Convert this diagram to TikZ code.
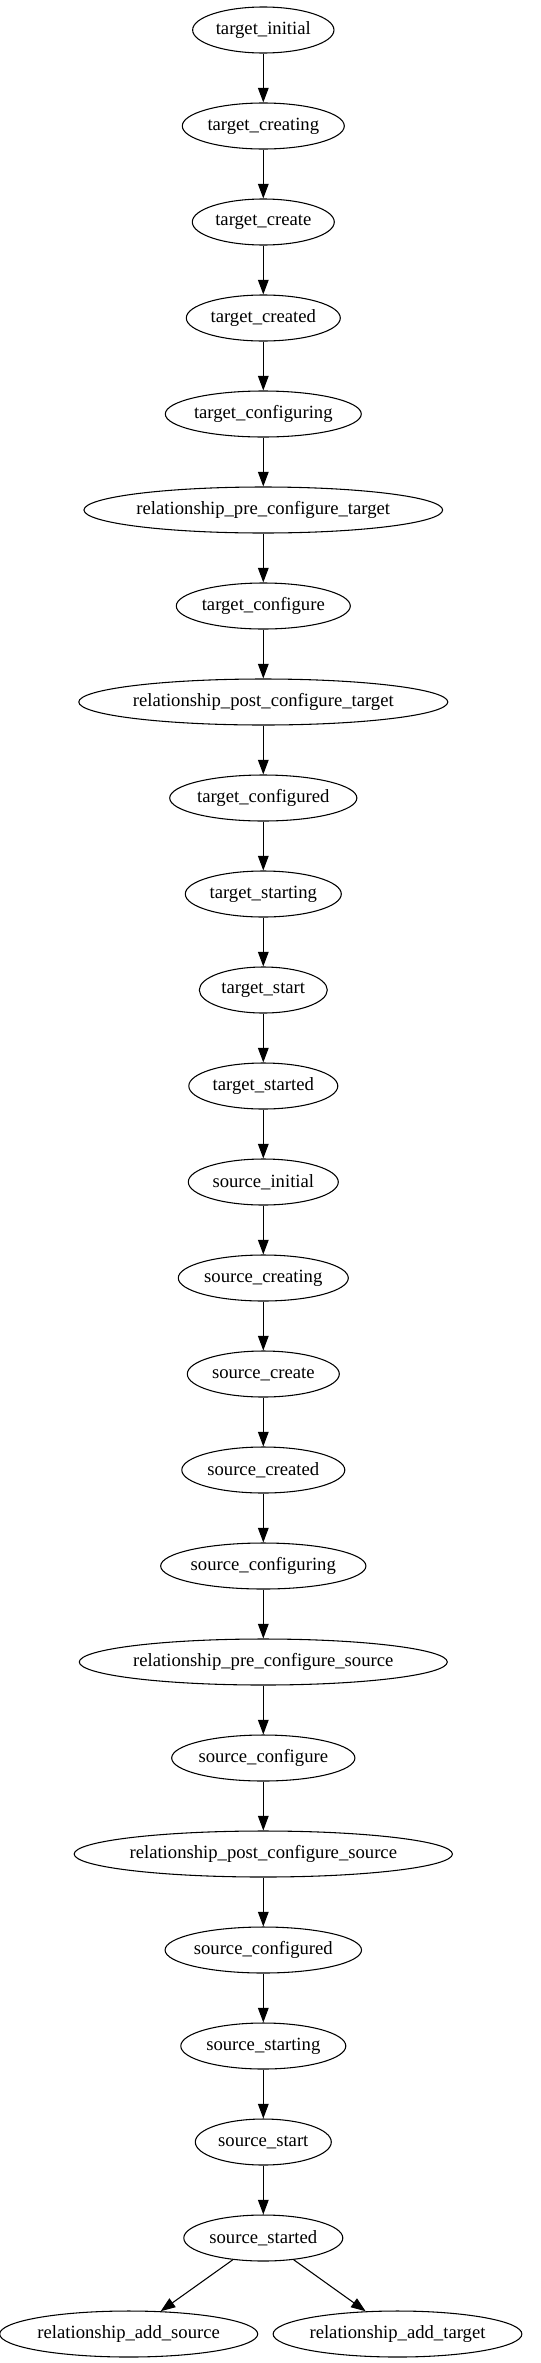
\documentclass[tikz,border=0pt]{standalone}
\usepackage{fontspec}
\setmainfont{Liberation Serif}
\usetikzlibrary{arrows.meta,shapes.geometric}

\begin{document}
\begin{tikzpicture}[x=0.75pt,y=0.75pt,yscale=-1,xscale=1,
  state/.style={draw, ellipse, line width=0.8pt, inner sep=0pt, minimum height=34.5pt, font=\fontsize{14pt}{16pt}\selectfont},
  arr/.style={line width=0.8pt, -{Triangle[length=11pt,width=8pt]}}]
\useasboundingbox (0,0) rectangle (541,2363);

% target side
\node [state, minimum width=106pt] (tinit) at (263.3,30) {target\_initial};
\node [state, minimum width=121.5pt] (tcreating) at (263.3,126) {target\_creating};
\node [state, minimum width=106.5pt] (tcreate) at (263.3,222) {target\_create};
\node [state, minimum width=115.5pt] (tcreated) at (263.3,318) {target\_created};
\node [state, minimum width=144pt] (tconfiguring) at (263.3,414) {target\_configuring};
\node [state, minimum width=250.5pt] (rpretarget) at (263.3,510) {relationship\_pre\_configure\_target};
\node [state, minimum width=130.5pt] (tconfigure) at (263.3,606) {target\_configure};
\node [state, minimum width=257.25pt] (rposttarget) at (263.3,702) {relationship\_post\_configure\_target};
\node [state, minimum width=138.75pt] (tconfigured) at (263.3,798) {target\_configured};
\node [state, minimum width=117pt] (tstarting) at (263.3,894) {target\_starting};
\node [state, minimum width=96pt] (tstart) at (263.3,990) {target\_start};
\node [state, minimum width=111.75pt] (tstarted) at (263.3,1086) {target\_started};

% source side
\node [state, minimum width=112.5pt] (sinit) at (263.3,1182) {source\_initial};
\node [state, minimum width=127.5pt] (screating) at (263.3,1278) {source\_creating};
\node [state, minimum width=114pt] (screate) at (263.3,1374) {source\_create};
\node [state, minimum width=122.25pt] (screated) at (263.3,1470) {source\_created};
\node [state, minimum width=150.75pt] (sconfiguring) at (263.3,1566) {source\_configuring};
\node [state, minimum width=255.75pt] (rpresource) at (263.3,1662) {relationship\_pre\_configure\_source};
\node [state, minimum width=136.5pt] (sconfigure) at (263.3,1758) {source\_configure};
\node [state, minimum width=263.25pt] (rpostsource) at (263.3,1854) {relationship\_post\_configure\_source};
\node [state, minimum width=144.75pt] (sconfigured) at (263.3,1950) {source\_configured};
\node [state, minimum width=123.75pt] (sstarting) at (263.3,2046) {source\_starting};
\node [state, minimum width=102pt] (sstart) at (263.3,2142) {source\_start};
\node [state, minimum width=119.25pt] (sstarted) at (263.3,2238) {source\_started};

% relationship ends
\node [state, minimum width=187.5pt] (raddsource) at (128.7,2334) {relationship\_add\_source};
\node [state, minimum width=180pt] (raddtarget) at (397.5,2334) {relationship\_add\_target};

% edges
\draw [arr] (tinit) -- (tcreating);
\draw [arr] (tcreating) -- (tcreate);
\draw [arr] (tcreate) -- (tcreated);
\draw [arr] (tcreated) -- (tconfiguring);
\draw [arr] (tconfiguring) -- (rpretarget);
\draw [arr] (rpretarget) -- (tconfigure);
\draw [arr] (tconfigure) -- (rposttarget);
\draw [arr] (rposttarget) -- (tconfigured);
\draw [arr] (tconfigured) -- (tstarting);
\draw [arr] (tstarting) -- (tstart);
\draw [arr] (tstart) -- (tstarted);
\draw [arr] (tstarted) -- (sinit);
\draw [arr] (sinit) -- (screating);
\draw [arr] (screating) -- (screate);
\draw [arr] (screate) -- (screated);
\draw [arr] (screated) -- (sconfiguring);
\draw [arr] (sconfiguring) -- (rpresource);
\draw [arr] (rpresource) -- (sconfigure);
\draw [arr] (sconfigure) -- (rpostsource);
\draw [arr] (rpostsource) -- (sconfigured);
\draw [arr] (sconfigured) -- (sstarting);
\draw [arr] (sstarting) -- (sstart);
\draw [arr] (sstart) -- (sstarted);
\draw [arr] (sstarted) -- (raddsource);
\draw [arr] (sstarted) -- (raddtarget);

\end{tikzpicture}
\end{document}
